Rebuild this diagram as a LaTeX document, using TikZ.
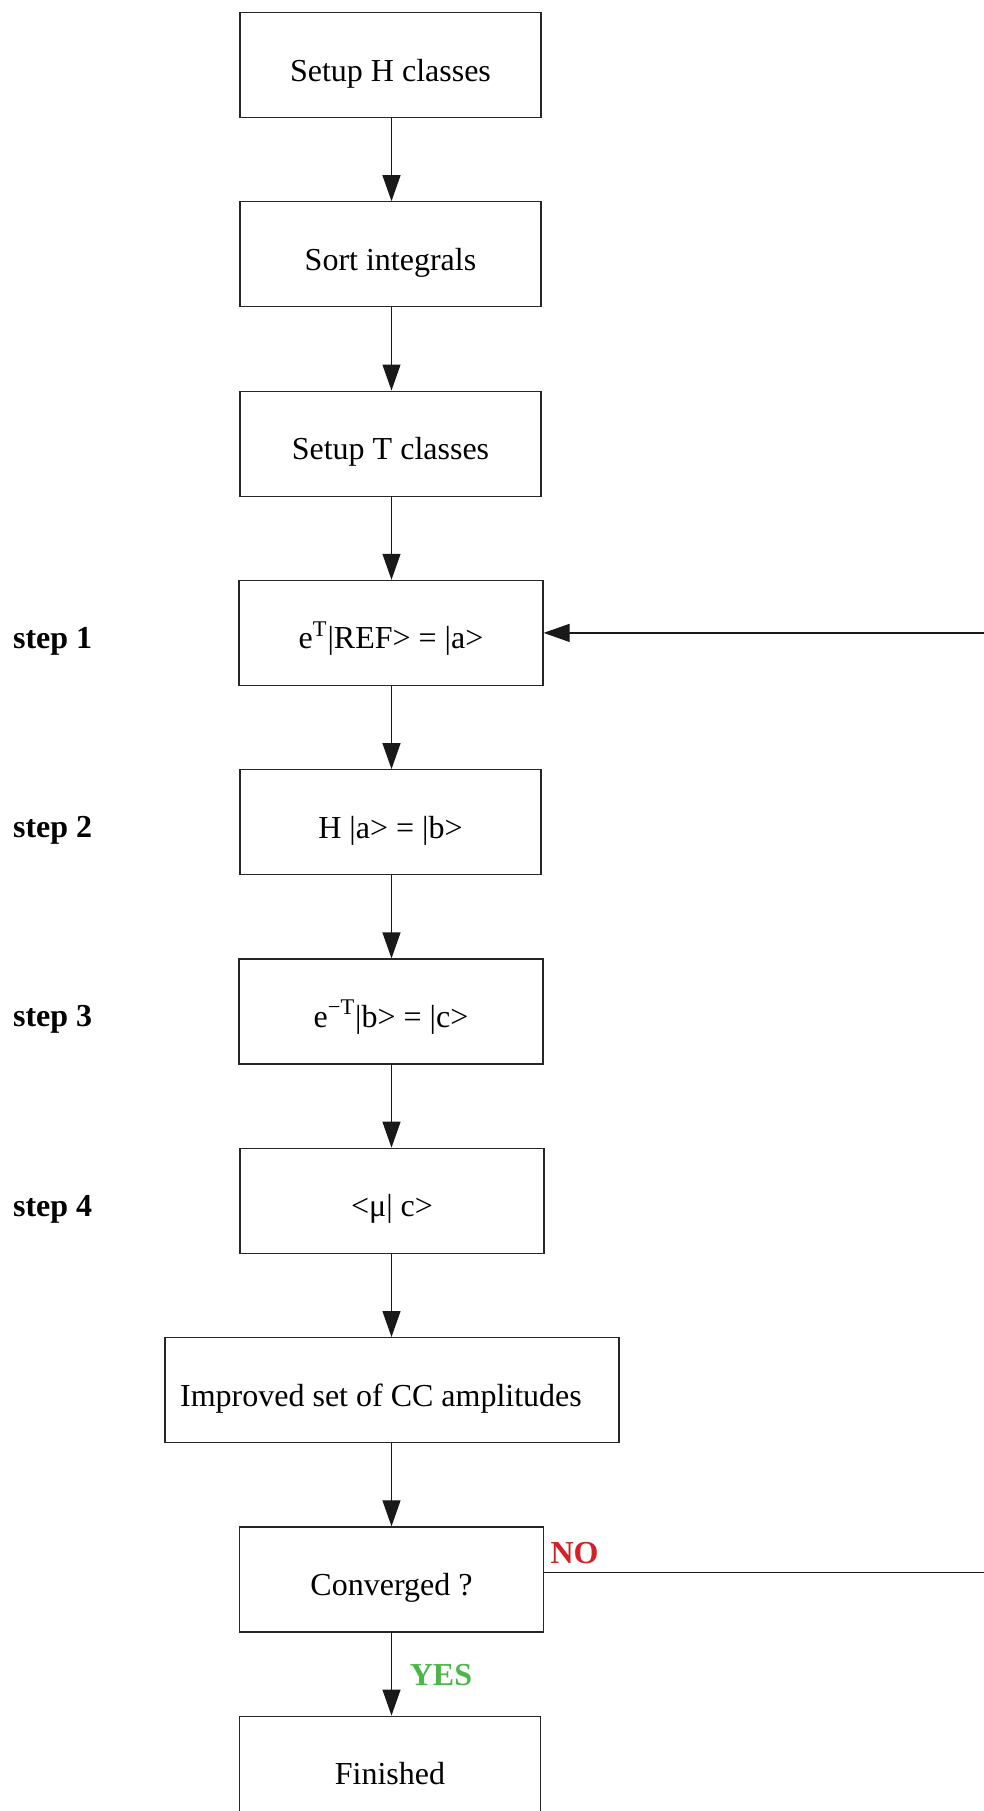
\documentclass[tikz,border=0pt]{standalone}
\usepackage{fontspec}
\setmainfont{Liberation Serif}
\usetikzlibrary{arrows.meta}
\definecolor{noRed}{RGB}{214,32,39}
\definecolor{yesGreen}{RGB}{76,183,72}
\begin{document}
\begin{tikzpicture}[x=0.5pt,y=-0.5pt,
  box/.style={draw=black!85, line width=0.6pt, minimum width=150.5pt,
    minimum height=52.5pt, inner sep=0pt, text height=16pt, text depth=0pt,
    font=\fontsize{16}{19}\selectfont},
  wide/.style={minimum width=152pt},
  flow/.style={draw=black!90, line width=0.6pt,
    -{Triangle[length=13pt,width=9pt]}},
  steplabel/.style={anchor=west, inner xsep=0pt,
    font=\fontsize{16}{19}\selectfont\bfseries},
  answer/.style={font=\fontsize{16}{19}\selectfont\bfseries}]
\useasboundingbox (0,0) rectangle (984,1811);
\clip (0,0) rectangle (984,1811);

% main chain of boxes
\node[box] (h) at (390.5,65) {Setup H classes};
\node[box] (sort) at (390.5,254.3) {Sort integrals};
\node[box] (t) at (390.5,443.6) {Setup T classes};
\node[box,wide] (s1) at (391,632.9) {e\textsuperscript{T}|REF> = |a>};
\node[box] (s2) at (390.5,822.2) {H |a> = |b>};
\node[box,wide] (s3) at (391,1011.5) {e\textsuperscript{−T}|b> = |c>};
\node[box,wide] (s4) at (392,1200.8) {<μ| c>};
\node[box,minimum width=227pt] (imp) at (392,1390.1) {Improved set of CC amplitudes\hspace*{11pt}};
\node[box,wide] (conv) at (391.5,1579.4) {Converged ?};
\node[box] (fin) at (390,1768.7) {Finished};

% step labels
\node[steplabel] (l1) at (12.7,641) {step 1};
\node[steplabel] (l2) at (12.7,830) {step 2};
\node[steplabel] (l3) at (12.7,1019.5) {step 3};
\node[steplabel] (l4) at (12.7,1209) {step 4};

% downward connectors
\coordinate (axis) at (391.5,0);
\foreach \a/\b in {h/sort, sort/t, t/s1, s1/s2, s2/s3, s3/s4, s4/imp, imp/conv, conv/fin}
  \draw[flow] (\a.south -| axis) -- (\b.north -| axis);

% loop back when not converged
\coordinate (noStart) at ([yshift=3.5pt]conv.east);
\coordinate (edge) at (1000,0);
\draw[flow] (noStart) -- (noStart -| edge) |- (s1.east);

\node[answer, text=noRed] (no) at (574.5,1553.5) {NO};
\node[answer, text=yesGreen] (yes) at (441,1675) {YES};
\end{tikzpicture}
\end{document}
